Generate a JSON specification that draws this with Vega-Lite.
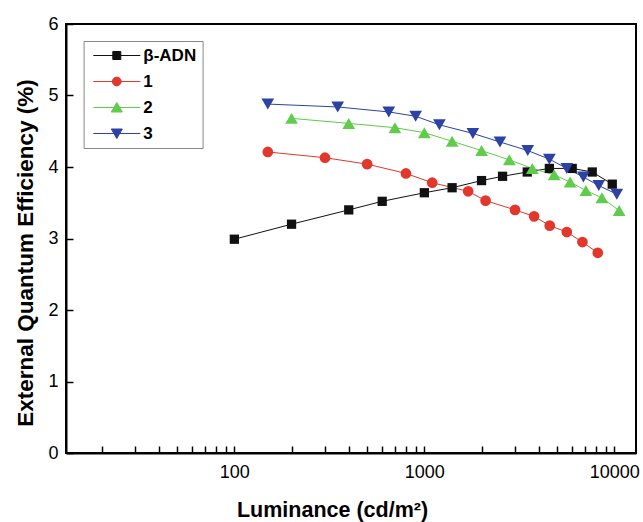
{
  "$schema": "https://vega.github.io/schema/vega-lite/v6.json",
  "width": 570,
  "height": 429,
  "autosize": {"type": "none"},
  "padding": {"left": 66, "top": 24, "right": 7, "bottom": 69},
  "config": {
    "font": "Liberation Sans",
    "view": {"stroke": "#000", "strokeWidth": 2},
    "axis": {"grid": false, "labelColor": "#000", "titleColor": "#000"}
  },
  "data": {
    "values": [
      {"series": "β-ADN", "lum": 100, "eqe": 2.99},
      {"series": "β-ADN", "lum": 200, "eqe": 3.20},
      {"series": "β-ADN", "lum": 400, "eqe": 3.40},
      {"series": "β-ADN", "lum": 600, "eqe": 3.52},
      {"series": "β-ADN", "lum": 1000, "eqe": 3.64},
      {"series": "β-ADN", "lum": 1400, "eqe": 3.71},
      {"series": "β-ADN", "lum": 2000, "eqe": 3.81},
      {"series": "β-ADN", "lum": 2580, "eqe": 3.87},
      {"series": "β-ADN", "lum": 3480, "eqe": 3.93},
      {"series": "β-ADN", "lum": 4550, "eqe": 3.98},
      {"series": "β-ADN", "lum": 6000, "eqe": 3.98},
      {"series": "β-ADN", "lum": 7650, "eqe": 3.93},
      {"series": "β-ADN", "lum": 9750, "eqe": 3.76},
      {"series": "1", "lum": 150, "eqe": 4.21},
      {"series": "1", "lum": 300, "eqe": 4.13},
      {"series": "1", "lum": 500, "eqe": 4.04},
      {"series": "1", "lum": 800, "eqe": 3.91},
      {"series": "1", "lum": 1100, "eqe": 3.78},
      {"series": "1", "lum": 1700, "eqe": 3.66},
      {"series": "1", "lum": 2100, "eqe": 3.53},
      {"series": "1", "lum": 3000, "eqe": 3.40},
      {"series": "1", "lum": 3780, "eqe": 3.31},
      {"series": "1", "lum": 4570, "eqe": 3.18},
      {"series": "1", "lum": 5620, "eqe": 3.09},
      {"series": "1", "lum": 6790, "eqe": 2.95},
      {"series": "1", "lum": 8180, "eqe": 2.80},
      {"series": "2", "lum": 200, "eqe": 4.68},
      {"series": "2", "lum": 400, "eqe": 4.61},
      {"series": "2", "lum": 700, "eqe": 4.55},
      {"series": "2", "lum": 1000, "eqe": 4.48},
      {"series": "2", "lum": 1400, "eqe": 4.36},
      {"series": "2", "lum": 2000, "eqe": 4.23},
      {"series": "2", "lum": 2800, "eqe": 4.10},
      {"series": "2", "lum": 3700, "eqe": 3.98},
      {"series": "2", "lum": 4820, "eqe": 3.89},
      {"series": "2", "lum": 5850, "eqe": 3.79},
      {"series": "2", "lum": 7080, "eqe": 3.67},
      {"series": "2", "lum": 8600, "eqe": 3.57},
      {"series": "2", "lum": 10600, "eqe": 3.39},
      {"series": "3", "lum": 150, "eqe": 4.88},
      {"series": "3", "lum": 350, "eqe": 4.84},
      {"series": "3", "lum": 650, "eqe": 4.77},
      {"series": "3", "lum": 900, "eqe": 4.71},
      {"series": "3", "lum": 1200, "eqe": 4.59},
      {"series": "3", "lum": 1800, "eqe": 4.47},
      {"series": "3", "lum": 2500, "eqe": 4.35},
      {"series": "3", "lum": 3500, "eqe": 4.23},
      {"series": "3", "lum": 4550, "eqe": 4.11},
      {"series": "3", "lum": 5620, "eqe": 3.98},
      {"series": "3", "lum": 6870, "eqe": 3.86},
      {"series": "3", "lum": 8280, "eqe": 3.74},
      {"series": "3", "lum": 10300, "eqe": 3.62}
    ]
  },
  "encoding": {
    "x": {
      "field": "lum", "type": "quantitative",
      "scale": {"type": "log", "domain": [13, 13000], "nice": false},
      "axis": {
        "orient": "bottom",
        "values": [20, 30, 40, 50, 60, 70, 80, 90, 100, 200, 300, 400, 500, 600, 700, 800, 900, 1000, 2000, 3000, 4000, 5000, 6000, 7000, 8000, 9000, 10000],
        "format": "d",
        "labelExpr": "(datum.value === 100 || datum.value === 1000 || datum.value === 10000) ? datum.label : ''",
        "labelOverlap": false, "labelFlush": false,
        "title": "Luminance (cd/m²)", "tickSize": -7, "tickWidth": 1.5, "tickColor": "#000",
        "domain": true, "domainColor": "#000", "domainWidth": 2,
        "labelFontSize": 18, "labelPadding": 17,
        "titleFontSize": 21.5, "titleFontWeight": "bold",
        "titleX": 266, "titleY": 63.4, "titleBaseline": "alphabetic", "titleAlign": "center",
        "encode": {
          "ticks": {
            "update": {
              "y2": {"signal": "(datum.value === 100 || datum.value === 1000 || datum.value === 10000) ? -7 : -4"}
            }
          }
        }
      }
    },
    "y": {
      "field": "eqe", "type": "quantitative",
      "scale": {"domain": [0, 6], "nice": false},
      "axis": {
        "orient": "left",
        "values": [0, 0.5, 1, 1.5, 2, 2.5, 3, 3.5, 4, 4.5, 5, 5.5, 6],
        "format": "d",
        "labelExpr": "(datum.value % 1 === 0) ? datum.label : ''",
        "labelOverlap": false, "labelFlush": false,
        "title": "External Quantum Efficiency (%)", "tickSize": -7, "tickWidth": 1.5, "tickColor": "#000",
        "domain": true, "domainColor": "#000", "domainWidth": 2,
        "labelFontSize": 18, "labelPadding": 15,
        "titleFontSize": 22.5, "titleFontWeight": "bold",
        "titleX": -34, "titleY": 228.5, "titleAngle": 270, "titleBaseline": "alphabetic", "titleAlign": "center",
        "encode": {
          "ticks": {
            "update": {
              "x2": {"signal": "(datum.value % 1 === 0) ? 7 : 4"}
            }
          }
        }
      }
    }
  },
  "layer": [
    {
      "mark": {"type": "line", "strokeWidth": 1},
      "encoding": {
        "color": {
          "field": "series", "type": "nominal",
          "scale": {"domain": ["β-ADN", "1", "2", "3"], "range": ["#111111", "#e2372b", "#5fcc4c", "#2c42a5"]},
          "legend": {
            "title": null, "orient": "none", "legendX": 17.6, "legendY": 17,
            "strokeColor": "#888888", "fillColor": "#ffffff", "padding": 6,
            "labelFontSize": 17, "labelFontWeight": "bold", "labelColor": "#000",
            "symbolSize": 100, "symbolOffset": 18.7, "labelOffset": 18, "rowPadding": 8,
            "symbolStrokeWidth": 1,
            "encode": {
              "symbols": {
                "update": {
                  "shape": {"signal": "datum.value === 'β-ADN' ? 'M-4.7,0H4.7M-0.8,-0.8H0.8V0.8H-0.8Z' : datum.value === '1' ? 'M-4.7,0H4.7M-0.88,0A0.88,0.88,0,1,1,0.88,0A0.88,0.88,0,1,1,-0.88,0Z' : datum.value === '2' ? 'M-4.7,0H4.7M0,-1L1.1,0.9H-1.1Z' : 'M-4.7,0H4.7M0,1L1.1,-0.9H-1.1Z'"},
                  "fill": {"signal": "scale('color', datum.value)"},
                  "stroke": {"signal": "scale('color', datum.value)"},
                  "strokeWidth": {"value": 1},
                  "opacity": {"value": 1}
                }
              }
            }
          }
        }
      }
    },
    {
      "transform": [{"filter": "datum.series === 'β-ADN'"}],
      "mark": {"type": "point", "shape": "square", "size": 86, "filled": true, "opacity": 1, "color": "#111111"}
    },
    {
      "transform": [{"filter": "datum.series === '1'"}],
      "mark": {"type": "point", "shape": "circle", "size": 115, "filled": true, "opacity": 1, "color": "#e2372b"}
    },
    {
      "transform": [{"filter": "datum.series === '2'"}],
      "mark": {"type": "point", "shape": "triangle-up", "size": 161, "filled": true, "opacity": 1, "color": "#5fcc4c"}
    },
    {
      "transform": [{"filter": "datum.series === '3'"}],
      "mark": {"type": "point", "shape": "triangle-down", "size": 161, "filled": true, "opacity": 1, "color": "#2c42a5"}
    }
  ]
}
